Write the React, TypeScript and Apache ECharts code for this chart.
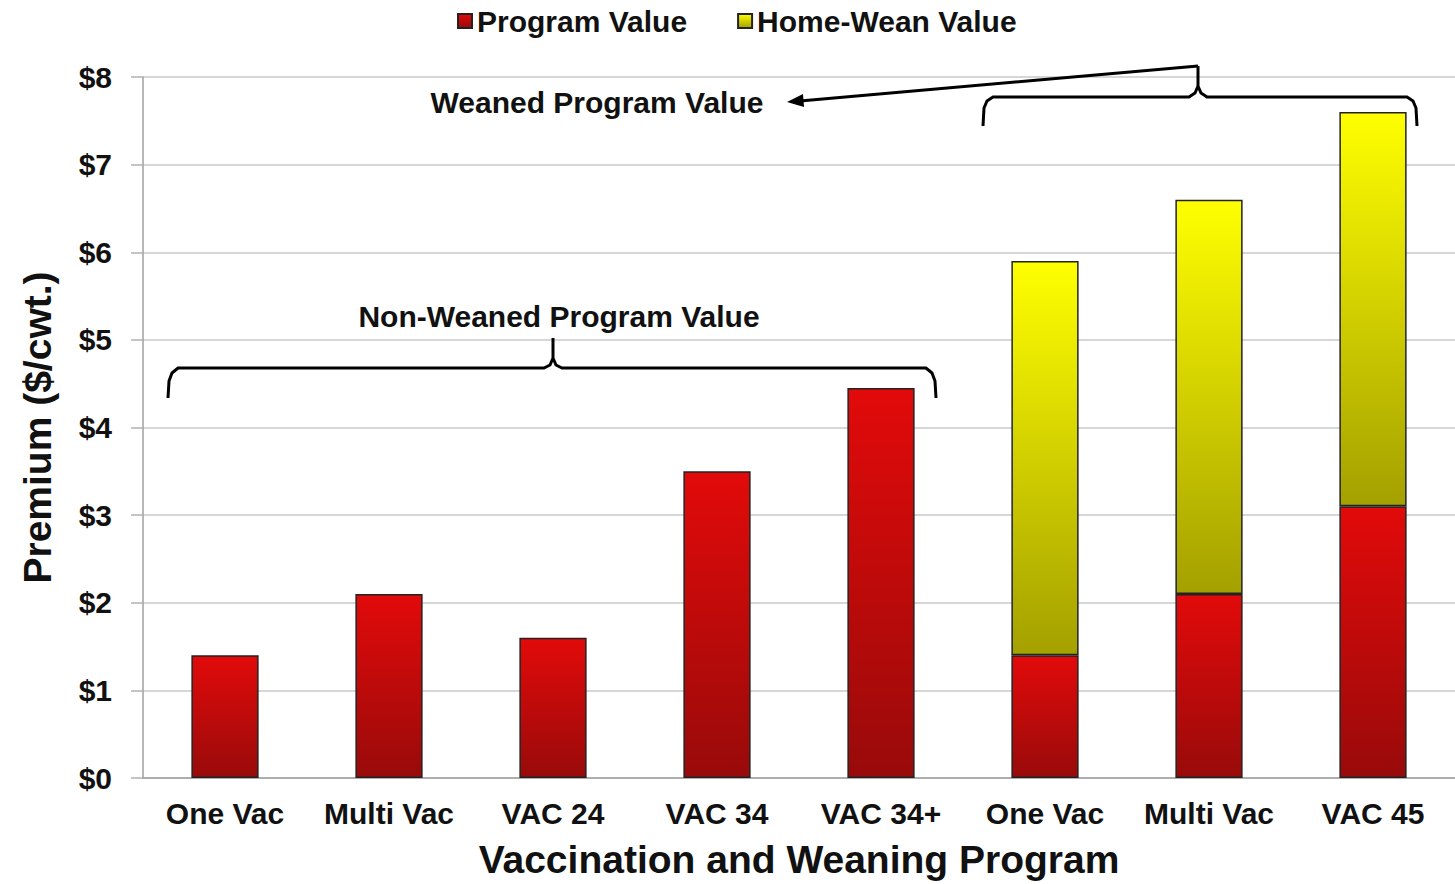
import React, { useEffect, useRef } from "react";
import * as echarts from "echarts";

const categories = ["One Vac", "Multi Vac", "VAC 24", "VAC 34", "VAC 34+", "One Vac", "Multi Vac", "VAC 45"];
const programValue = [1.4, 2.1, 1.6, 3.5, 4.45, 1.4, 2.1, 3.1];
const homeWeanValue: (number | null)[] = [null, null, null, null, null, 4.5, 4.5, 4.5];
const seriesNames = ["Program Value", "Home-Wean Value"];
const yMin = 0;
const yMax = 8;
const yInterval = 1;
const xTitle = "Vaccination and Weaning Program";
const yTitle = "Premium ($/cwt.)";
const weanedLabel = "Weaned Program Value";
const nonWeanedLabel = "Non-Weaned Program Value";

const FONT = '"Liberation Sans", Arial, sans-serif';

export default function App() {
  const ref = useRef<HTMLDivElement>(null);
  useEffect(() => {
    if (!ref.current) return;
    const chart = echarts.init(ref.current, null, { renderer: "svg" });
    const red = new echarts.graphic.LinearGradient(0, 0, 0, 1, [
      { offset: 0, color: "#e20a0a" },
      { offset: 1, color: "#990a0a" },
    ]);
    const yellow = new echarts.graphic.LinearGradient(0, 0, 0, 1, [
      { offset: 0, color: "#ffff00" },
      { offset: 1, color: "#a4a000" },
    ]);
    const braceStyle = { stroke: "#000", lineWidth: 3, fill: null as any };
    chart.setOption({
      animation: false,
      backgroundColor: "#ffffff",
      textStyle: { fontFamily: FONT },
      legend: {
        left: 452,
        top: 1,
        icon: "rect",
        itemWidth: 14,
        itemHeight: 14,
        itemGap: 50,
        data: seriesNames,
        textStyle: { fontSize: 30, fontWeight: "bold", color: "#111", fontFamily: FONT },
      },
      grid: { left: 143, right: -2, top: 77, bottom: 105, containLabel: false },
      xAxis: {
        type: "category",
        data: categories,
        axisLine: { lineStyle: { color: "#a0a0a0", width: 1.5 } },
        axisTick: { show: false },
        axisLabel: { fontSize: 30, fontWeight: "bold", color: "#111", margin: 20, interval: 0, fontFamily: FONT },
        name: xTitle,
        nameLocation: "middle",
        nameGap: 62,
        nameTextStyle: { fontSize: 39, fontWeight: "bold", color: "#111", fontFamily: FONT },
      },
      yAxis: {
        type: "value",
        min: yMin,
        max: yMax,
        interval: yInterval,
        axisLine: { show: true, lineStyle: { color: "#a0a0a0", width: 1.5 } },
        axisTick: { show: true, length: 12, lineStyle: { color: "#b0b0b0", width: 1.5 } },
        splitLine: { lineStyle: { color: "#c8c8c8", width: 1.5 } },
        axisLabel: {
          fontSize: 30,
          fontWeight: "bold",
          color: "#111",
          margin: 31,
          fontFamily: FONT,
          formatter: (v: number) => "$" + v,
        },
        name: yTitle,
        nameLocation: "middle",
        nameGap: 86,
        nameTextStyle: { fontSize: 39, fontWeight: "bold", color: "#111", fontFamily: FONT },
      },
      series: [
        {
          name: seriesNames[0],
          type: "bar",
          stack: "total",
          barWidth: "41%",
          data: programValue,
          itemStyle: { color: red, borderColor: "#222", borderWidth: 1.5 },
        },
        {
          name: seriesNames[1],
          type: "bar",
          stack: "total",
          barWidth: "41%",
          data: homeWeanValue,
          itemStyle: { color: yellow, borderColor: "#222", borderWidth: 1.5 },
        },
      ],
      graphic: [
        {
          type: "polyline",
          z: 100,
          shape: {
            points: [
              [168, 398], [169, 381], [172, 373], [178, 368], [544, 368], [550, 365], [553, 358], [553, 338],
              [553, 358], [556, 365], [562, 368], [926, 368], [932, 373], [935, 381], [936, 398],
            ],
          },
          style: braceStyle,
        },
        {
          type: "text",
          z: 100,
          x: 559,
          y: 316,
          style: {
            text: nonWeanedLabel,
            fontSize: 30,
            fontWeight: "bold",
            fontFamily: FONT,
            fill: "#111",
            align: "center",
            verticalAlign: "middle",
          },
        },
        {
          type: "polyline",
          z: 100,
          shape: {
            points: [
              [983, 126], [984, 108], [987, 101], [993, 97], [1189, 97], [1195, 93], [1198, 86], [1198, 66],
              [1198, 86], [1201, 93], [1207, 97], [1407, 97], [1413, 101], [1416, 108], [1417, 126],
            ],
          },
          style: braceStyle,
        },
        {
          type: "line",
          z: 100,
          shape: { x1: 1198, y1: 66, x2: 800, y2: 101 },
          style: { stroke: "#000", lineWidth: 3 },
        },
        {
          type: "polygon",
          z: 100,
          shape: { points: [[787, 102], [803, 94], [804, 107]] },
          style: { fill: "#000" },
        },
        {
          type: "text",
          z: 100,
          x: 597,
          y: 102,
          style: {
            text: weanedLabel,
            fontSize: 30,
            fontWeight: "bold",
            fontFamily: FONT,
            fill: "#111",
            align: "center",
            verticalAlign: "middle",
          },
        },
      ],
    });
    return () => chart.dispose();
  }, []);
  return (
    <div
      ref={ref}
      style={{ position: "absolute", left: 0, top: 0, width: 1455, height: 884 }}
    />
  );
}
